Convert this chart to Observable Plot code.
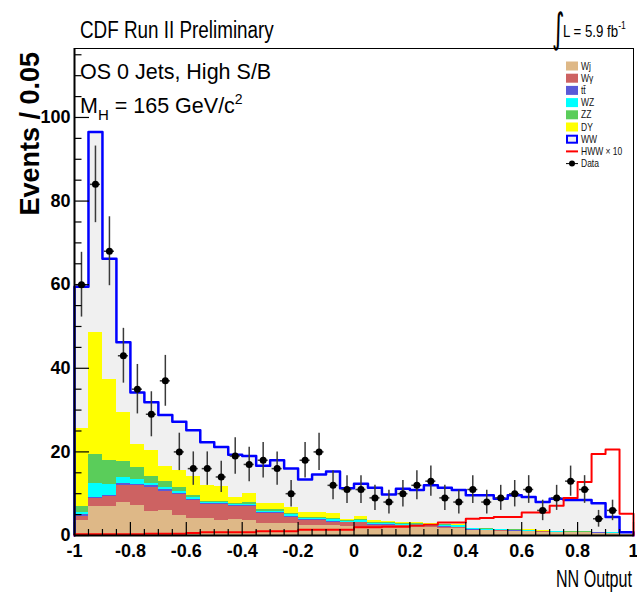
<!DOCTYPE html>
<html>
<head>
<meta charset="utf-8">
<script src="https://cdn.jsdelivr.net/npm/d3@7"></script>
<script src="https://cdn.jsdelivr.net/npm/@observablehq/plot@0.6"></script>
<style>
  body { margin: 0; background: #fff; }
  #fig { position: relative; width: 637px; height: 593px; background: #fff; }
  #fig svg { position: absolute; left: 0; top: 0; }
</style>
</head>
<body>
<div id="fig"></div>
<script>
// NN output histogram: 40 bins of width 0.05 between -1 and 1
const nBins = 40, xMin = -1, xMax = 1;

// Background expectations per bin (events / 0.05), stacked bottom to top
const wjets  = [3.7,7.0,6.9,8.0,7.2,5.8,6.0,4.8,4.0,4.0, 3.6,3.8,3.6,2.9,2.9,2.8,2.4,2.4,2.3,2.2, 2.0,1.9,1.9,1.8,1.8,1.8,1.7,1.7,1.2,1.1, 1.0,1.0,0.9,0.8,0.7,0.6,0.6,0.5,0.4,0.2];
const wgamma = [0.9,1.8,2.4,4.0,4.8,5.8,4.6,5.0,4.4,3.4, 3.8,3.1,3.3,2.3,2.3,1.6,1.2,1.2,0.9,0.8, 1.0,0.6,0.6,0.5,0.4,0.3,0.3,0.2,0.1,0.1, 0.1,0.05,0.1,0.05,0.05,0.05,0.05,0.05,0.05,0.02];
const ttbar  = [0.4,0.4,0.3,0.4,0.3,0.3,0.3,0.2,0.2,0.2, 0.2,0.2,0.2,0.2,0.2,0.2,0.2,0.2,0.2,0.1, 0.2,0.1,0.1,0.1,0.1,0.1,0.1,0.1,0.05,0.05, 0.05,0.05,0.05,0.05,0.05,0.05,0.05,0.05,0.05,0.03];
const wz     = [0.6,3.3,2.6,1.4,1.2,0.6,0.6,0.6,0.4,0.2, 0.3,0.3,0.3,0.4,0.4,0.4,0.3,0.3,0.4,0.3, 0.4,0.3,0.3,0.3,0.3,0.3,0.3,0.3,0.25,0.25, 0.25,0.2,0.15,0.1,0.1,0.1,0.1,0.1,0.1,0.05];
const zz     = [1.4,6.9,5.8,4.0,2.8,1.5,1.3,0.8,0.6,0.4, 0.2,0.3,0.4,0.4,0.4,0.3,0.3,0.3,0.3,0.2, 0.3,0.2,0.2,0.2,0.2,0.2,0.2,0.2,0.1,0.1, 0.1,0.1,0.1,0.05,0.05,0.05,0.05,0.05,0.02,0.02];
const dy     = [18.6,29.1,19.2,11.7,5.5,6.3,3.7,4.1,4.4,3.8, 3.7,1.5,2.2,1.4,1.4,1.5,1.2,1.2,1.2,0.2, 0.6,0.4,0.3,0.3,0.2,0.2,0.1,0.1,0.05,0.05, 0.05,0.05,0.05,0.05,0.05,0.05,0.05,0.05,0.03,0.03];
const ww     = [33.9,48.0,29.0,16.7,12.4,11.6,12.3,11.7,11.2,10.3, 9.4,10.1,9.0,9.1,10.4,9.2,7.8,9.0,10.0,7.5, 7.9,7.9,6.4,8.0,7.9,9.1,8.7,8.3,7.85,7.95, 7.25,8.15,7.85,6.9,7.8,7.6,7.6,6.9,3.75,0.45];

// Higgs signal (m_H = 165) scaled by 10
const hww10  = [0.3,0.3,0.3,0.3,0.3,0.4,0.4,0.4,0.6,0.8, 0.8,0.8,0.8,1.0,1.0,1.0,1.4,1.4,1.4,1.4, 2.0,2.0,2.1,2.1,2.4,2.6,3.1,3.1,4.0,4.2, 4.4,4.4,5.5,5.5,7.1,9.0,12.8,19.5,20.6,5.2];

// Observed events per bin (last bin empty)
const dataCounts = [60,84,68,43,35,29,37,20,16,16, 14,19,17,18,16,10,18,20,12,11, 11,9,8,10,12,13,9,8,11,8, 9,10,11,6,9,13,11,4,6,0];

// Process names and fill colours, bottom of the stack first
const processNames  = ["Wj", "Wγ", "tt̄", "WZ", "ZZ", "DY", "WW"];
const processColors = ["#deb887", "#cd6262", "#5a5ad8", "#00ffff", "#5acd5a", "#ffff00", "#f0f0f0"];

// Axis ticks
const xLabels = [-1, -0.8, -0.6, -0.4, -0.2, 0, 0.2, 0.4, 0.6, 0.8, 1];
const yLabels = [0, 20, 40, 60, 80, 100];

// ---- derived tables ----
const binW = (xMax - xMin) / nBins;
const binLow = d3.range(nBins).map(i => xMin + i * binW);
const series = [wjets, wgamma, ttbar, wz, zz, dy, ww];
const stackRows = series.flatMap((vals, k) =>
  vals.map((v, i) => ({process: processNames[k], x1: binLow[i], x2: binLow[i] + binW, value: v})));
const totals = binLow.map((_, i) => d3.sum(series, s => s[i]));
const stepOutline = vals => [
  {x: xMin, y: 0},
  ...vals.map((v, i) => ({x: binLow[i], y: v})),
  {x: xMax, y: vals[nBins - 1]},
  {x: xMax, y: 0}
];
const points = dataCounts
  .map((n, i) => ({x: binLow[i] + binW / 2, n}))
  .filter(d => d.n > 0);
const xMinor = d3.range(nBins + 1).map(i => xMin + i * binW)
  .filter(v => Math.abs(v * 5 - Math.round(v * 5)) > 1e-6);
const yMinor = d3.range(5, 116, 5).filter(v => v % 20 !== 0);

// ---- layout ----
const W = 637, H = 593;
const M = {top: 48, right: 4, bottom: 58, left: 74};
const frameW = W - M.left - M.right;
const frameH = H - M.top - M.bottom;

const chart = Plot.plot({
  width: W, height: H,
  marginTop: M.top, marginRight: M.right, marginBottom: M.bottom, marginLeft: M.left,
  x: {domain: [xMin, xMax], axis: null},
  y: {domain: [0, 116.5], axis: null},
  color: {domain: processNames, range: processColors},
  style: {fontFamily: "'Liberation Sans', Arial, sans-serif", color: "#000", background: "#fff", overflow: "visible"},
  marks: [
    Plot.rectY(stackRows, {x1: "x1", x2: "x2", y: "value", fill: "process", order: processNames, shapeRendering: "crispEdges"}),
    Plot.line(stepOutline(totals), {x: "x", y: "y", curve: "step-after", stroke: "#0000ff", strokeWidth: 2.5}),
    Plot.line(stepOutline(hww10), {x: "x", y: "y", curve: "step-after", stroke: "#ff0000", strokeWidth: 2}),
    Plot.ruleX(points, {x: "x", y1: d => d.n - Math.sqrt(d.n), y2: d => d.n + Math.sqrt(d.n), stroke: "#3a3a3a", strokeWidth: 1.5}),
    Plot.ruleY(points, {y: "n", x1: d => d.x - 0.018, x2: d => d.x + 0.018, stroke: "#3a3a3a", strokeWidth: 1.5}),
    Plot.dot(points, {x: "x", y: "n", r: 3.5, fill: "#000", stroke: null}),
    // inward ticks
    Plot.tickX(xLabels, {x: d => d, insetTop: frameH - 13, stroke: "#000", strokeWidth: 1.2}),
    Plot.tickX(xMinor, {x: d => d, insetTop: frameH - 6, stroke: "#000", strokeWidth: 1.2}),
    Plot.tickY(yLabels, {y: d => d, insetRight: frameW - 15, stroke: "#000", strokeWidth: 1.2}),
    Plot.tickY(yMinor, {y: d => d, insetRight: frameW - 7.5, stroke: "#000", strokeWidth: 1.2}),
    // frame and axis lines
    Plot.frame({stroke: "#000", strokeWidth: 1}),
    Plot.ruleX([xMin], {stroke: "#000", strokeWidth: 2}),
    Plot.ruleY([0], {stroke: "#000", strokeWidth: 2}),
    // tick labels
    Plot.axisX(xLabels, {tickSize: 0, tickPadding: 9, fontSize: 18, fontWeight: "bold", label: null,
      tickFormat: d => String(Math.round(d * 10) / 10)}),
    Plot.axisY(yLabels, {tickSize: 0, tickPadding: 4, fontSize: 18, fontWeight: "bold", label: null})
  ]
});
document.getElementById("fig").appendChild(chart);

// ---- annotations, axis titles and legend ----
const svg = d3.select("#fig").append("svg")
  .attr("width", W).attr("height", H)
  .style("pointer-events", "none")
  .attr("font-family", "'Liberation Sans', Arial, sans-serif");

// condensed lettering: horizontally compressed text
const condensed = (x, y, sx) => `translate(${x},${y}) scale(${sx},1)`;

svg.append("text").attr("transform", condensed(80, 38, 0.82))
  .attr("font-size", 23)
  .text("CDF Run II Preliminary");

svg.append("text").attr("transform", "translate(552,42) scale(1,1.7)")
  .attr("font-family", "'DejaVu Sans', sans-serif").attr("font-size", 24)
  .text("∫");
const lumi = svg.append("text").attr("transform", condensed(563, 37, 0.78))
  .attr("font-size", 17);
lumi.append("tspan").text("L = 5.9 fb");
lumi.append("tspan").attr("dy", -8).attr("font-size", 11).text("-1");

svg.append("text").attr("x", 80).attr("y", 79)
  .attr("font-size", 21.5).text("OS 0 Jets, High S/B");
const mh = svg.append("text").attr("x", 80).attr("y", 113).attr("font-size", 21.5);
mh.append("tspan").text("M");
mh.append("tspan").attr("dy", 7).attr("font-size", 15).text("H");
mh.append("tspan").attr("dy", -7).text(" = 165 GeV/c");
mh.append("tspan").attr("dy", -9).attr("font-size", 14).text("2");

svg.append("text").attr("transform", condensed(632, 587, 0.7))
  .attr("text-anchor", "end").attr("font-size", 23)
  .text("NN Output");

svg.append("text")
  .attr("transform", "translate(39,52) rotate(-90)")
  .attr("text-anchor", "end").attr("font-size", 27).attr("font-weight", "bold")
  .text("Events / 0.05");

// legend
const legendItems = [
  {label: "Wj", kind: "box", color: processColors[0]},
  {label: "Wγ", kind: "box", color: processColors[1]},
  {label: "tt̄", kind: "box", color: processColors[2]},
  {label: "WZ", kind: "box", color: processColors[3]},
  {label: "ZZ", kind: "box", color: processColors[4]},
  {label: "DY", kind: "box", color: processColors[5]},
  {label: "WW", kind: "outline", color: processColors[6]},
  {label: "HWW × 10", kind: "line", color: "#ff0000"},
  {label: "Data", kind: "marker", color: "#000"}
];
const lg = svg.append("g").attr("transform", "translate(566,66)");
legendItems.forEach((d, k) => {
  const g = lg.append("g").attr("transform", `translate(0,${k * 12.2})`);
  if (d.kind === "box") {
    g.append("rect").attr("x", 0).attr("y", -4.5).attr("width", 12).attr("height", 9).attr("fill", d.color);
  } else if (d.kind === "outline") {
    g.append("rect").attr("x", 1).attr("y", -3.5).attr("width", 10).attr("height", 7)
      .attr("fill", d.color).attr("stroke", "#0000ff").attr("stroke-width", 2);
  } else if (d.kind === "line") {
    g.append("line").attr("x1", 0).attr("x2", 12).attr("y1", 0).attr("y2", 0)
      .attr("stroke", d.color).attr("stroke-width", 2);
  } else {
    g.append("line").attr("x1", 0).attr("x2", 12).attr("y1", 0).attr("y2", 0)
      .attr("stroke", "#000").attr("stroke-width", 1);
    g.append("circle").attr("cx", 6).attr("cy", 0).attr("r", 3).attr("fill", "#000");
  }
  g.append("text").attr("transform", condensed(15, 3.5, 0.85)).attr("font-size", 10)
    .attr("fill", "#111").text(d.label);
});
</script>
</body>
</html>
